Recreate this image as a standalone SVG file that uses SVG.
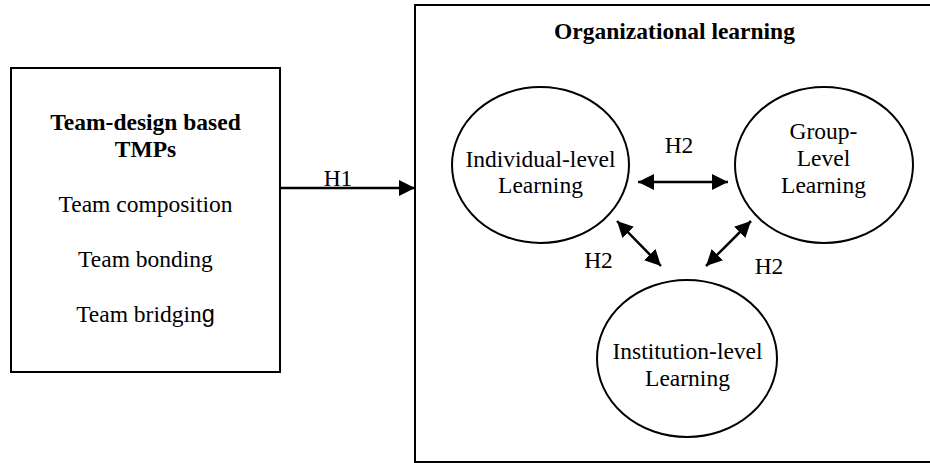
<svg xmlns="http://www.w3.org/2000/svg" width="930" height="463" viewBox="0 0 930 463">
<style>
text{font-family:"Liberation Serif","Times New Roman",serif;font-size:23.5px;fill:#000;text-anchor:middle}
.b{font-weight:bold}
.box{fill:#fff;stroke:#000;stroke-width:2}
.ell{fill:#fff;stroke:#000;stroke-width:2}
.con{stroke:#000;stroke-width:2.5;fill:none}
</style>
<defs>
<marker id="ah" viewBox="0 0 16 16" refX="16" refY="8" markerWidth="16" markerHeight="16" markerUnits="userSpaceOnUse" orient="auto-start-reverse">
<path d="M0,0 L16,8 L0,16 Z" fill="#000"/>
</marker>
</defs>
<rect width="930" height="463" fill="#fff"/>
<g id="org-learning">
<rect class="box" x="415" y="5" width="530" height="457"/>
<text class="b" x="674.5" y="39">Organizational learning</text>
</g>
<g id="team-design">
<rect class="box" x="11" y="68" width="269" height="304"/>
<text class="b" x="145.5" y="130">Team-design based</text>
<text class="b" x="145.5" y="157">TMPs</text>
<text x="145.5" y="212">Team composition</text>
<text x="145.5" y="267">Team bonding</text>
<text x="145.5" y="322">Team bridgin<tspan style="font-family:'Liberation Sans',Arial,sans-serif">g</tspan></text>
</g>
<g id="individual">
<ellipse class="ell" cx="540.5" cy="165" rx="88.5" ry="78"/>
<text x="540.5" y="167">Individual-level</text>
<text x="540.5" y="193">Learning</text>
</g>
<g id="group">
<ellipse class="ell" cx="824" cy="165" rx="89" ry="78"/>
<text x="823.5" y="139">Group-</text>
<text x="823.5" y="166">Level</text>
<text x="823.5" y="193">Learning</text>
</g>
<g id="institution">
<ellipse class="ell" cx="687" cy="358.5" rx="90" ry="78.5"/>
<text x="687.5" y="359">Institution-level</text>
<text x="687.5" y="386">Learning</text>
</g>
<g id="connectors">
<line class="con" x1="280" y1="188" x2="415" y2="188" marker-end="url(#ah)"/>
<text x="338" y="186">H1</text>
<line class="con" x1="638" y1="182" x2="728" y2="182" marker-start="url(#ah)" marker-end="url(#ah)"/>
<text x="679" y="153">H2</text>
<line class="con" x1="617" y1="221" x2="661" y2="266" marker-start="url(#ah)" marker-end="url(#ah)"/>
<text x="598.5" y="268">H2</text>
<line class="con" x1="706" y1="266" x2="751" y2="221" marker-start="url(#ah)" marker-end="url(#ah)"/>
<text x="769" y="274">H2</text>
</g>
</svg>
